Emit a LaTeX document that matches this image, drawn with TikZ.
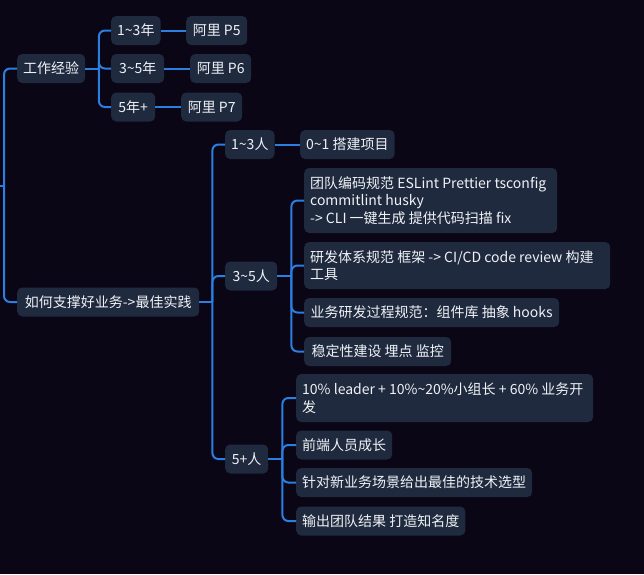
\documentclass[tikz,border=0pt]{standalone}
\usepackage{fontspec}
\setmainfont{Noto Sans CJK SC}
\usetikzlibrary{calc}
\definecolor{bg}{HTML}{0A0616}
\definecolor{nodefill}{HTML}{1F2A3F}
\definecolor{link}{HTML}{2B7FE0}
\definecolor{txt}{HTML}{F0F2F5}
\newcommand{\tild}{\textasciitilde}
\newcommand{\fixline}[2]{\makebox[#1][l]{#2}}
\begin{document}
\begin{tikzpicture}[x=1pt,y=-1pt,
  box/.style={fill=nodefill, rounded corners=5pt, text=txt,
    font=\fontsize{14}{17.7}\selectfont, inner xsep=6pt, inner ysep=4pt,
    anchor=west, align=left, minimum height=29pt},
  conn/.style={draw=link, line width=2pt, rounded corners=6pt}]
\fill[bg] (0,0) rectangle (644,574);
\useasboundingbox (0,0) rectangle (644,574);

% level 1
\node[box, minimum width=67pt] (g) at (17,68.5) {工作经验};
\node[box, minimum width=182pt] (b) at (17,302) {如何支撑好业务->最佳实践};

% work experience
\node[box, minimum width=49pt] (g1) at (111,30.5) {1\tild3年};
\node[box, minimum width=61pt] (g1a) at (186,30.5) {阿里 P5};
\node[box, minimum width=53pt] (g2) at (111,68.5) {3\tild5年};
\node[box, minimum width=61pt] (g2a) at (190,68.5) {阿里 P6};
\node[box, minimum width=44pt] (g3) at (111,107) {5年+};
\node[box, minimum width=61pt] (g3a) at (181,107) {阿里 P7};

% best practice
\node[box, minimum width=48pt] (b1) at (225,144.5) {1\tild3人};
\node[box, minimum width=92pt] (b1a) at (300,144.5) {0\tild1 搭建项目};
\node[box, minimum width=52pt] (b2) at (225,276) {3\tild5人};
\node[box, minimum height=65pt] (b2a) at (304,200.5)
  {\fixline{241pt}{团队编码规范 ESLint Prettier tsconfig}\\commitlint husky\\-> CLI 一键生成 提供代码扫描 fix};
\node[box, minimum height=47pt] (b2b) at (304,265.5)
  {\fixline{294pt}{研发体系规范 框架 -> CI/CD code review 构建}\\工具};
\node[box, minimum width=255pt] (b2c) at (304,312.5) {业务研发过程规范：组件库 抽象 hooks};
\node[box, minimum width=147pt] (b2d) at (304,351.5) {稳定性建设 埋点 监控};
\node[box, minimum width=43pt] (b3) at (225,459) {5+人};
\node[box, minimum height=48pt] (b3a) at (296,398)
  {\fixline{285pt}{10\% leader + 10\%\tild20\%小组长 + 60\% 业务开}\\发};
\node[box, minimum width=94pt] (b3b) at (296,445) {前端人员成长};
\node[box, minimum width=234pt] (b3c) at (296,482.5) {针对新业务场景给出最佳的技术选型};
\node[box, minimum width=169pt] (b3d) at (296,521) {输出团队结果 打造知名度};

% connectors
\coordinate (rs) at (0,186);
\coordinate (rb) at (4,186);
\draw[conn] (rs) -- (rb);
\draw[conn] (rb) |- (g.west);
\draw[conn] (rb) |- (b.west);

\coordinate (gb) at ($(g.east)+(13.5,0)$);
\draw[conn] (g.east) -- (gb);
\draw[conn] (gb) |- (g1.west);
\draw[conn] (gb) |- (g2.west);
\draw[conn] (gb) |- (g3.west);
\draw[conn] (g1.east) -- (g1a.west);
\draw[conn] (g2.east) -- (g2a.west);
\draw[conn] (g3.east) -- (g3a.west);

\coordinate (bb) at ($(b.east)+(13,0)$);
\draw[conn] (b.east) -- (bb);
\draw[conn] (bb) |- (b1.west);
\draw[conn] (bb) |- (b2.west);
\draw[conn] (bb) |- (b3.west);
\draw[conn] (b1.east) -- (b1a.west);

\coordinate (b2bus) at ($(b2.east)+(14,0)$);
\draw[conn] (b2.east) -- (b2bus);
\draw[conn] (b2bus) |- (b2a.west);
\draw[conn] (b2bus) |- (b2b.west);
\draw[conn] (b2bus) |- (b2c.west);
\draw[conn] (b2bus) |- (b2d.west);

\coordinate (b3bus) at ($(b3.east)+(14,0)$);
\draw[conn] (b3.east) -- (b3bus);
\draw[conn] (b3bus) |- (b3a.west);
\draw[conn] (b3bus) |- (b3b.west);
\draw[conn] (b3bus) |- (b3c.west);
\draw[conn] (b3bus) |- (b3d.west);
\end{tikzpicture}
\end{document}
